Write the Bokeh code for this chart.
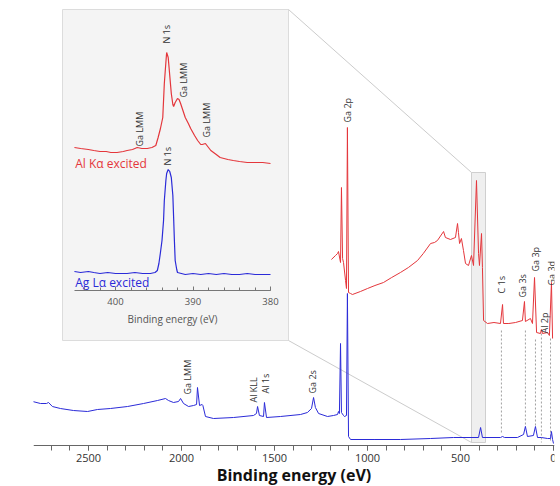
import math
from bokeh.plotting import figure
from bokeh.models import Range1d, LinearAxis, SingleIntervalTicker, Label
from bokeh.core.properties import value
from bokeh.embed import file_html
from bokeh.resources import INLINE

# ---------------- data ----------------
# Survey, Al K-alpha excited (red)
al_energy = [1194, 1172, 1161, 1156, 1145, 1140, 1134, 1129, 1118, 1113, 1108, 1102, 1091, 1081,
             1038, 1000, 960, 914, 870, 823, 780, 731, 700, 661, 640, 624, 591, 581, 554, 527,
             516, 511, 505, 495, 484, 473, 457, 441, 430, 414, 403, 398, 387, 382, 376, 355,
             320, 285, 274, 269, 240, 204, 167, 156, 151, 124, 113, 102, 91, 70, 65, 59, 32,
             22, 11, 5]
al_counts = [186, 190, 192, 194, 183, 258, 187, 183, 165, 157, 318, 153, 152, 151,
             154, 157, 160, 163, 168, 173, 178, 185, 192, 202, 203, 205, 214, 208, 206, 208,
             222, 213, 202, 207, 195, 182, 180, 190, 180, 265, 192, 180, 212, 178, 125, 122,
             123, 122, 141, 122, 122, 123, 125, 144, 124, 127, 122, 168, 113, 112, 116, 112, 113,
             110, 163, 107]

# Survey, Ag L-alpha excited (blue)
ag_energy = [2800, 2758, 2726, 2715, 2694, 2651, 2581, 2505, 2452, 2382, 2290, 2204, 2129, 2086,
             2070, 2043, 2016, 2005, 1989, 1962, 1935, 1919, 1914, 1903, 1889, 1885, 1871, 1828,
             1720, 1613, 1597, 1591, 1581, 1559, 1554, 1543, 1468, 1360, 1323, 1301, 1290, 1280,
             1263, 1215, 1183, 1161, 1156, 1151, 1145, 1140, 1129, 1124, 1113, 1108, 1102, 1091,
             960, 823, 661, 538, 403, 392, 382, 285, 274, 263, 194, 161, 151, 140, 108, 97, 86,
             65, 32, 16, 11, 5, 0]
ag_counts = [44, 42, 42, 43, 39, 37, 35, 34, 36, 37, 39, 42, 45, 47,
             45, 43, 44, 47, 42, 39, 40, 41, 58, 40, 41, 40, 29, 27,
             28, 30, 32, 39, 30, 29, 43, 28, 29, 31, 33, 37, 48, 38,
             32, 29, 30, 31, 34, 32, 102, 33, 30, 29, 30, 152, 9, 6,
             6, 6, 7, 8, 8, 18, 8, 8, 9, 8, 8, 11, 19, 9, 10, 19, 8,
             8, 7, 7, 14, 6, 2]

# Peak labels on the survey spectra
al_peak_names = ["Ga 2p", "C 1s", "Ga 3s", "Ga 3p", "Al 2p", "Ga 3d"]
al_peak_x = [1108, 280, 167, 97, 48, 11]
al_peak_y = [323, 152, 148, 174, 112, 160]
ag_peak_names = ["Ga LMM", "Al KLL", "Al 1s", "Ga 2s"]
ag_peak_x = [1968, 1613, 1548, 1296]
ag_peak_y = [51, 43, 52, 52]

# Dashed guides linking peaks of the two surveys
guide_x = [280, 151, 97, 65, 16]
guide_top = [115, 115, 106, 112, 107]
guide_bottom = [12, 18, 18, 3, 5]

# Inset: N 1s region, Al K-alpha (red)
in_al_energy = [405.3, 404.5, 403.5, 402.8, 402.0, 401.2, 400.6, 399.8, 399.0, 398.5, 397.8,
                397.2, 396.6, 395.9, 395.3, 394.8, 394.5, 394.2, 393.9, 393.7, 393.5, 393.4,
                393.2, 393.0, 392.8, 392.6, 392.5, 392.3, 392.0, 391.8, 391.6, 391.3, 391.0,
                390.6, 390.3, 389.8, 389.4, 389.0, 388.8, 388.4, 388.0, 387.7, 387.0, 386.5,
                385.5, 384.8, 384.0, 383.0, 382.2, 381.0, 380.0]
in_al_counts = [143, 142, 141, 140, 139, 139, 138, 138, 139, 140, 141,
                143, 142, 142, 143, 145, 153, 162, 173, 207, 228, 238,
                233, 215, 197, 186, 184, 188, 192, 191, 187, 180, 173,
                167, 162, 155, 150, 146, 146, 147, 143, 140, 136, 133,
                131, 130, 129, 128, 128, 128, 127]

# Inset: N 1s region, Ag L-alpha (blue)
in_ag_energy = [405.3, 404.5, 403.5, 402.8, 402.0, 401.0, 400.0, 399.0, 398.5, 397.5, 396.5,
                395.5, 394.9, 394.6, 394.4, 394.2, 394.0, 393.8, 393.7, 393.5, 393.4, 393.2,
                393.0, 392.8, 392.6, 392.5, 392.4, 392.3, 392.1, 392.0, 391.5, 391.0, 390.0,
                389.0, 388.0, 387.0, 386.0, 385.0, 384.0, 383.0, 382.0, 381.0, 380.0]
in_ag_counts = [19, 18, 19, 18, 17, 18, 17, 17, 17, 18, 17,
                17, 18, 20, 27, 38, 50, 70, 90, 110, 117, 121,
                119, 113, 95, 73, 50, 30, 21, 18, 17, 16, 17,
                16, 17, 16, 17, 16, 16, 17, 16, 16, 16]

in_peak_names = ["N 1s", "Ga LMM", "Ga LMM", "Ga LMM", "N 1s"]
in_peak_x = [393.4, 396.9, 391.2, 388.3, 393.3]
in_peak_y = [247, 144, 193, 153, 125]

RED = "#e4363b"
BLUE = "#2b2bd8"
FONT = "Open Sans"

# ---------------- layout geometry (canvas pixels) ----------------
W, H = 560, 486
FL, FR, FT = 33, 554, 0                   # frame edges (frame runs to the canvas bottom)
AXIS_PX = 445                             # main x-axis line
X0_PX, PX_PER_EV = 553.0, 0.186           # main x scale
IN_X400_PX, IN_PX_PER_EV = 115.0, 7.75    # inset x scale
IN_Y0_PX = 290.0                          # inset baseline

main_x0 = (X0_PX - FL) / PX_PER_EV
main_x1 = (X0_PX - FR) / PX_PER_EV
in_x0 = 400 + (IN_X400_PX - FL) / IN_PX_PER_EV
in_x1 = 400 - (FR - IN_X400_PX) / IN_PX_PER_EV


def mx(px):
    return (X0_PX - px) / PX_PER_EV


def my(py):
    return AXIS_PX - py


p = figure(width=W, height=H, x_range=Range1d(main_x0, main_x1),
           y_range=Range1d(AXIS_PX - H, AXIS_PX - FT),
           output_backend="svg", toolbar_location=None, y_axis_location=None,
           min_border_left=FL, min_border_right=W - FR, min_border_top=FT,
           min_border_bottom=0)
p.extra_x_ranges = {"inset": Range1d(in_x0, in_x1)}
p.extra_y_ranges = {"inset": Range1d(IN_Y0_PX - H, IN_Y0_PX - FT)}
p.outline_line_color = None
p.xgrid.visible = False
p.ygrid.visible = False
p.background_fill_color = "white"
p.border_fill_color = "white"

ax = p.xaxis[0]
ax.fixed_location = 0
ax.bounds = (main_x1, main_x0)
ax.ticker = SingleIntervalTicker(interval=500, num_minor_ticks=5)
ax.axis_label = "Binding energy (eV)"
ax.axis_label_text_font = FONT
ax.axis_label_text_font_style = "bold"
ax.axis_label_text_font_size = "16px"
ax.axis_label_text_color = "#111111"
ax.axis_label_standoff = -1
ax.major_label_text_font = FONT
ax.major_label_text_font_size = "11px"
ax.major_label_text_color = "#333333"
ax.major_label_standoff = 3
ax.axis_line_color = "#666666"
ax.major_tick_line_color = "#666666"
ax.minor_tick_line_color = "#666666"
ax.major_tick_in = 0
ax.major_tick_out = 5
ax.minor_tick_in = 0
ax.minor_tick_out = 5

# inset box and zoom indicators
p.quad(left=mx(62), right=mx(288), top=my(9), bottom=my(340),
       fill_color="#f4f4f4", line_color="#dcdcdc", line_width=1)
p.quad(left=mx(471), right=mx(485), top=my(172), bottom=my(442),
       fill_color="#efefef", line_color="#cfcfcf", line_width=1)
p.segment(x0=[mx(288), mx(288)], y0=[my(9), my(340)], x1=[mx(471), mx(471)], y1=[my(172), my(442)],
          line_color="#cccccc", line_width=1)

# guides
p.segment(x0=guide_x, y0=guide_top, x1=guide_x, y1=guide_bottom,
          line_color="#888888", line_width=0.8, line_dash="2 2")

# survey spectra
p.line(ag_energy, ag_counts, line_color=BLUE, line_width=1)
p.line(al_energy, al_counts, line_color=RED, line_width=1)

p.text(x=al_peak_x, y=al_peak_y, text=al_peak_names, angle=math.pi / 2,
       text_align="left", text_baseline="middle", text_font=value(FONT),
       text_font_size="9px", text_color="#333333")
p.text(x=ag_peak_x, y=ag_peak_y, text=ag_peak_names, angle=math.pi / 2,
       text_align="left", text_baseline="middle", text_font=value(FONT),
       text_font_size="9px", text_color="#333333")

# inset spectra
p.line(in_al_energy, in_al_counts, line_color=RED, line_width=1.2,
       x_range_name="inset", y_range_name="inset")
p.line(in_ag_energy, in_ag_counts, line_color=BLUE, line_width=1.2,
       x_range_name="inset", y_range_name="inset")
p.text(x=in_peak_x, y=in_peak_y, text=in_peak_names, angle=math.pi / 2,
       text_align="left", text_baseline="middle", text_font=value(FONT),
       text_font_size="9px", text_color="#333333",
       x_range_name="inset", y_range_name="inset")
p.text(x=[405.2, 405.2], y=[127, 8], text=["Al Kα excited", "Ag Lα excited"],
       text_align="left", text_baseline="middle", text_font=value(FONT),
       text_font_size="12px", text_color=[RED, BLUE],
       x_range_name="inset", y_range_name="inset")

iax = LinearAxis(x_range_name="inset", y_range_name="inset", fixed_location=0,
                 bounds=(380, in_al_energy[0]),
                 ticker=SingleIntervalTicker(interval=10, num_minor_ticks=5))
iax.axis_label = "Binding energy (eV)"
iax.axis_label_text_font = FONT
iax.axis_label_text_font_style = "normal"
iax.axis_label_text_font_size = "10px"
iax.axis_label_text_color = "#555555"
iax.axis_label_standoff = 4
iax.major_label_text_font = FONT
iax.major_label_text_font_size = "9.5px"
iax.major_label_text_color = "#555555"
iax.major_label_standoff = 7
iax.axis_line_color = "#777777"
iax.major_tick_line_color = "#777777"
iax.minor_tick_line_color = "#777777"
iax.major_tick_in = 4
iax.major_tick_out = 0
iax.minor_tick_in = 3
iax.minor_tick_out = 0
p.add_layout(iax, "below")

p.add_layout(Label(x=mx(20), y=my(338), text="Counts per second (normalised)", angle=math.pi / 2,
                   text_align="center", text_baseline="middle", text_font=FONT,
                   text_font_size="9.5px", text_color="#222222"))

open("out.html", "w").write(file_html(p, INLINE))
